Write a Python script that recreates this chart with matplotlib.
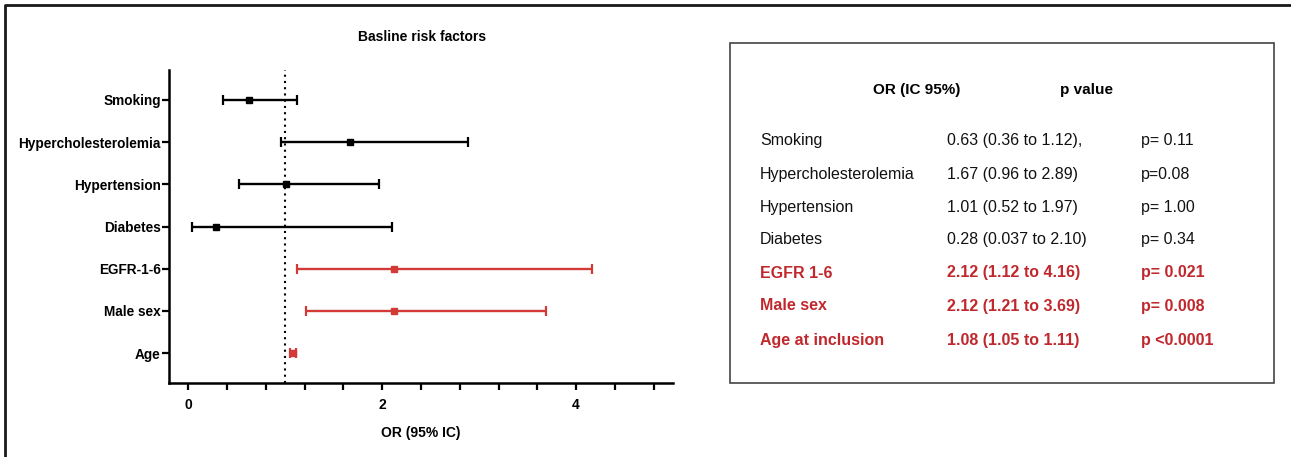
import matplotlib.pyplot as plt
from matplotlib.lines import Line2D
from matplotlib.patches import Rectangle

factors = ['Smoking', 'Hypercholesterolemia', 'Hypertension', 'Diabetes',
           'EGFR-1-6', 'Male sex', 'Age']
odds = [0.63, 1.67, 1.01, 0.28, 2.12, 2.12, 1.08]
ci_low = [0.36, 0.96, 0.52, 0.037, 1.12, 1.21, 1.05]
ci_high = [1.12, 2.89, 1.97, 2.10, 4.16, 3.69, 1.11]
significant = [False, False, False, False, True, True, True]

table_names = ['Smoking', 'Hypercholesterolemia', 'Hypertension', 'Diabetes',
               'EGFR 1-6', 'Male sex', 'Age at inclusion']
table_or = ['0.63 (0.36 to 1.12),', '1.67 (0.96 to 2.89)', '1.01 (0.52 to 1.97)',
            '0.28 (0.037 to 2.10)', '2.12 (1.12 to 4.16)', '2.12 (1.21 to 3.69)',
            '1.08 (1.05 to 1.11)']
table_p = ['p= 0.11', 'p=0.08', 'p= 1.00', 'p= 0.34', 'p= 0.021', 'p= 0.008',
           'p <0.0001']

RED_BAR = '#d23a38'
RED_TXT = '#c0282d'
plt.rcParams['font.family'] = ['Liberation Sans', 'DejaVu Sans']

W, H = 1291, 457
fig = plt.figure(figsize=(W / 100, H / 100), dpi=100)


def fx(px):
    return px / W


def fy(py):
    return 1 - py / H


# outer frame (left + top only)
fig.add_artist(Line2D([fx(5), fx(5), 1], [0, fy(5), fy(5)], color='#1a1a1a',
                      lw=2, transform=fig.transFigure))

# forest plot
ax = fig.add_axes([fx(169), fy(383), fx(673) - fx(169), fy(70) - fy(383)])
for i in range(len(factors)):
    c = RED_BAR if significant[i] else 'black'
    ax.errorbar(odds[i], i, xerr=[[odds[i] - ci_low[i]], [ci_high[i] - odds[i]]],
                fmt='s', color=c, ecolor=c, ms=4, elinewidth=1.7,
                capsize=3.5, capthick=1.6)
ax.axvline(1, color='black', ls=(0, (1, 2)), lw=1.5, zorder=0)

ax.set_xlim(-0.2, 5.0)
ax.set_ylim(6.71, -0.71)
ax.set_yticks(range(len(factors)))
ax.set_yticklabels(factors, fontsize=9.8, fontweight='bold')
ax.set_xticks([0, 2, 4])
ax.set_xticklabels(['0', '2', '4'], fontsize=10, fontweight='bold')
ax.set_xticks([0.4, 0.8, 1.2, 1.6, 2.4, 2.8, 3.2, 3.6, 4.4, 4.8], minor=True)
ax.tick_params(axis='both', which='both', direction='out', length=5, width=1.6)
ax.tick_params(axis='y', pad=1)
ax.tick_params(axis='x', pad=6)
for s in ['top', 'right']:
    ax.spines[s].set_visible(False)
for s in ['left', 'bottom']:
    ax.spines[s].set_linewidth(1.8)
ax.set_xlabel('OR (95% IC)', fontsize=10, fontweight='bold', labelpad=10)
fig.text(fx(422), fy(37), 'Basline risk factors', ha='center', va='center',
         fontsize=10, fontweight='bold')

# table panel
fig.add_artist(Rectangle((fx(730), fy(383)), fx(1274) - fx(730), fy(43) - fy(383),
                         fill=False, edgecolor='#444444', lw=1.2,
                         transform=fig.transFigure))
fig.text(fx(873), fy(90), 'OR (IC 95%)', ha='left', va='center',
         fontsize=11, fontweight='bold')
fig.text(fx(1060), fy(90), 'p value', ha='left', va='center',
         fontsize=11, fontweight='bold')
row_y = [141, 174, 207, 240, 273, 306, 340]
for i in range(len(table_names)):
    c = RED_TXT if significant[i] else '#111111'
    w = 'bold' if significant[i] else 'normal'
    for x, t in zip([760, 947, 1141], [table_names[i], table_or[i], table_p[i]]):
        fig.text(fx(x), fy(row_y[i]), t, ha='left', va='center', fontsize=11.5,
                 color=c, fontweight=w)

fig.savefig('out.png', dpi=100)
